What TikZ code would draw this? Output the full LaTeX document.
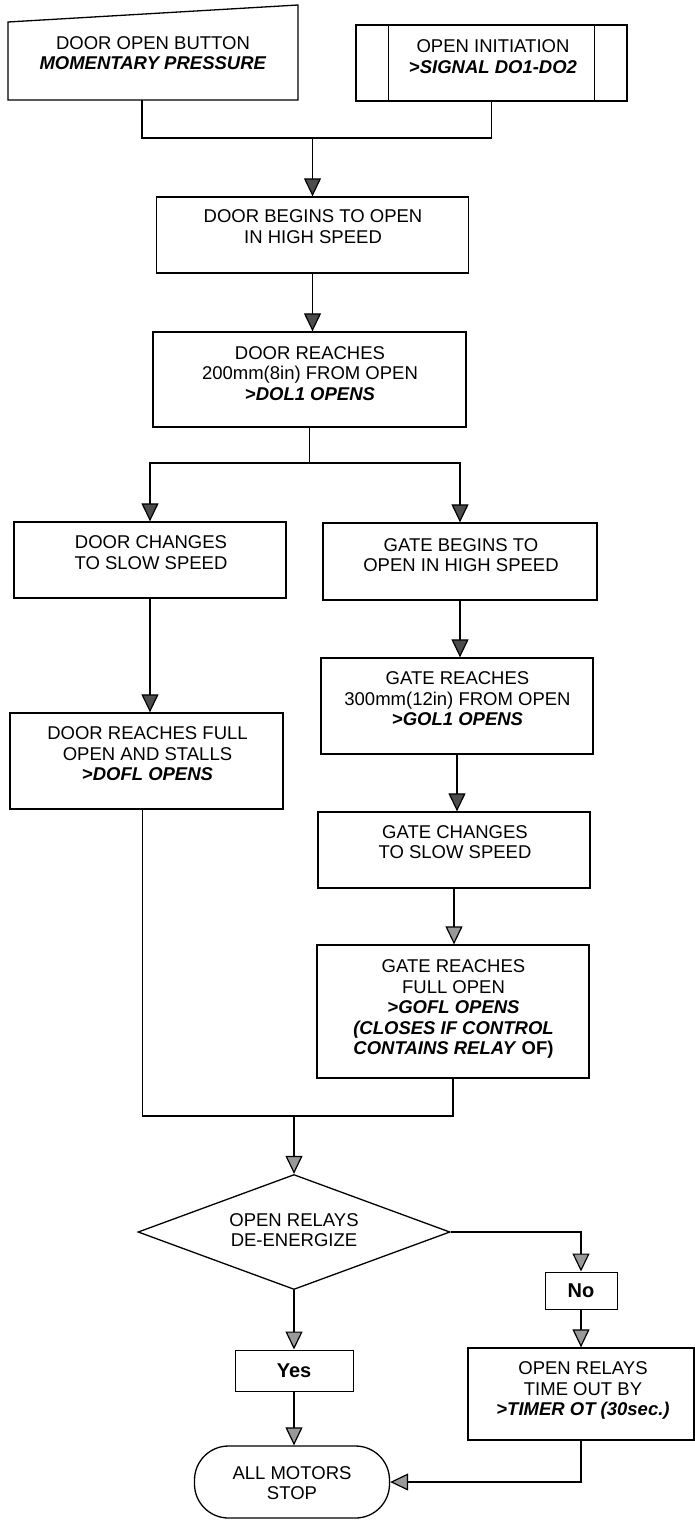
\documentclass[tikz,border=0pt]{standalone}
\usepackage{fontspec}
\setmainfont{Liberation Sans}
\usetikzlibrary{arrows.meta,shapes.geometric,calc}
\begin{document}
\begin{tikzpicture}[x=1pt,y=-1pt,
  box/.style={draw, line width=1.3pt, rectangle, inner sep=0pt},
  txt/.style={align=center, inner sep=0pt, font=\fontsize{18.5}{20.5}\selectfont},
  ln/.style={draw, line width=1.2pt},
  arr/.style={ln, -{Triangle[width=17pt,length=18pt,fill=black!70]}},
  arrl/.style={ln, -{Triangle[width=17pt,length=18pt,fill=black!40]}},
]
\useasboundingbox (0,0) rectangle (695,1522);

% box 1: manual input
\draw[line width=1.3pt] (8,22) -- (298,5) -- (298,100) -- (8,100) -- cycle;
\coordinate (b1s) at (142,100);
\node[txt] (t1) at (153,53) {DOOR OPEN BUTTON\\\textbf{\textit{MOMENTARY PRESSURE}}};

% box 2: predefined process
\node[box, minimum width=271pt, minimum height=76pt] (b2) at (491.5,63) {};
\draw[line width=1.3pt] ([xshift=33pt]b2.north west) -- ([xshift=33pt]b2.south west)
  ([xshift=-33pt]b2.north east) -- ([xshift=-33pt]b2.south east);
\node[txt] (t2) at (493,56.5) {OPEN INITIATION\\\textbf{\textit{>SIGNAL DO1-DO2}}};

% main boxes
\node[box, minimum width=312pt, minimum height=76pt] (b3) at (312.5,235) {};
\node[txt] (t3) at (313,226.5) {DOOR BEGINS TO OPEN\\IN HIGH SPEED};

\node[box, minimum width=313pt, minimum height=95pt] (b4) at (309.5,379.5) {};
\node[txt] (t4) at (310,373.5) {DOOR REACHES\\200mm(8in) FROM OPEN\\\textbf{\textit{>DOL1 OPENS}}};

\node[box, minimum width=272pt, minimum height=76pt] (b5) at (150,560) {};
\node[txt] (t5) at (151,552.5) {DOOR CHANGES\\TO SLOW SPEED};

\node[box, minimum width=274pt, minimum height=77pt] (b6) at (460,561.5) {};
\node[txt] (t6) at (461,555) {GATE BEGINS TO\\OPEN IN HIGH SPEED};

\node[box, minimum width=273pt, minimum height=96pt] (b7) at (146.5,761) {};
\node[txt] (t7) at (147.5,754) {DOOR REACHES FULL\\OPEN AND STALLS\\\textbf{\textit{>DOFL OPENS}}};

\node[box, minimum width=272pt, minimum height=96pt] (b8) at (457,706) {};
\node[txt] (t8) at (457.5,699) {GATE REACHES\\300mm(12in) FROM OPEN\\\textbf{\textit{>GOL1 OPENS}}};

\node[box, minimum width=272pt, minimum height=76pt] (b9) at (454,850) {};
\node[txt] (t9) at (455,842) {GATE CHANGES\\TO SLOW SPEED};

\node[box, minimum width=272pt, minimum height=133pt] (b10) at (453,1011.5) {};
\node[txt] (t10) at (453.5,1009) {GATE REACHES\\FULL OPEN\\\textbf{\textit{>GOFL OPENS}}\\\textbf{\textit{(CLOSES IF CONTROL}}\\\textbf{\textit{CONTAINS RELAY} OF)}};

% decision
\node[draw, line width=1.3pt, diamond, inner sep=0pt, minimum width=312pt, minimum height=115pt] (d) at (294,1232) {};
\node[txt] (td) at (294,1230) {OPEN RELAYS\\DE-ENERGIZE};

\node[box, line width=1pt, minimum width=118pt, minimum height=41pt] (yes) at (294,1370.5) {};
\node[txt, font=\fontsize{20}{22}\selectfont\bfseries] (tyes) at (294,1370.5) {Yes};

\node[box, line width=1pt, minimum width=72pt, minimum height=37pt] (no) at (581,1290.5) {};
\node[txt, font=\fontsize{20}{22}\selectfont\bfseries] (tno) at (581,1290.5) {No};

\node[box, minimum width=226pt, minimum height=92pt] (tm) at (581,1394) {};
\node[txt] (ttm) at (583,1390.5) {OPEN RELAYS\\TIME OUT BY\\\textbf{\textit{>TIMER OT (30sec.)}}};

\node[draw, line width=1.3pt, rectangle, rounded corners=34pt, inner sep=0pt, minimum width=195pt, minimum height=72pt] (term) at (292,1482) {};
\node[txt] (tterm) at (292,1483) {ALL MOTORS\\STOP};

% connectors
\coordinate (j1) at (312.5,138);
\draw[ln] (b1s) |- (j1);
\draw[ln] (b2.south) |- (j1);
\draw[arr] (j1) -- (b3.north);
\draw[arr] (b3.south) -- (b3.south |- b4.north);
\coordinate (j2) at (309.5,463);
\draw[ln] (b4.south) -- (j2);
\draw[arr] (j2) -| (b5.north);
\draw[arr] (j2) -| (b6.north);
\draw[arr] (b5.south) -- (b5.south |- b7.north);
\draw[arr] (b6.south) -- (b6.south |- b8.north);
\draw[arr] (b8.south) -- (b8.south |- b9.north);
\draw[arrl] (b9.south) -- (b9.south |- b10.north);
\coordinate (j3) at (294,1116);
\draw[ln] ([xshift=-4pt]b7.south) |- (j3);
\draw[ln] (b10.south) |- (j3);
\draw[arrl] (j3) -- (d.north);
\draw[arrl] (d.east) -| (no.north);
\draw[arrl] (d.south) -- (d.south |- yes.north);
\draw[arrl] (yes.south) -- (yes.south |- term.north);
\draw[arrl] (no.south) -- (tm.north);
\draw[arrl] (tm.south) |- (term.east);
\end{tikzpicture}
\end{document}
